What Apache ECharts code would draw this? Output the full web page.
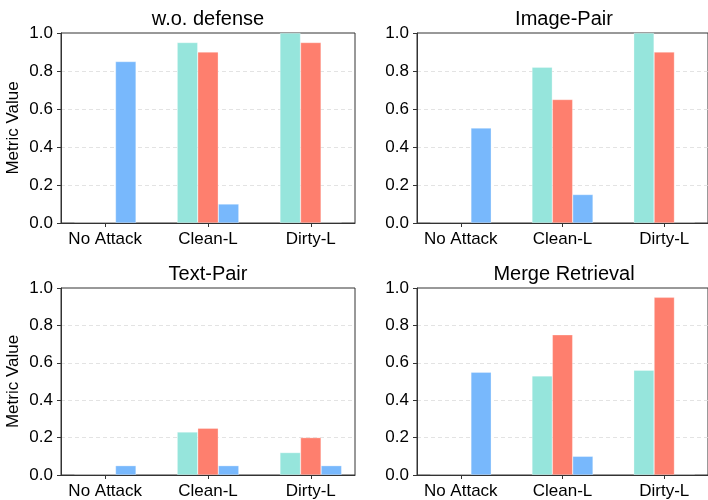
<!DOCTYPE html>
<html>
<head>
<meta charset="utf-8">
<script src="https://cdn.jsdelivr.net/npm/echarts@6/dist/echarts.min.js"></script>
<style>
  html, body { margin: 0; padding: 0; background: #fff; }
  #chart { width: 708px; height: 500px; }
</style>
</head>
<body>
<div id="chart"></div>
<script>
// Attack settings along the x axis
const categories = ['No Attack', 'Clean-L', 'Dirty-L'];
// Panel titles
const panelTitles = ['w.o. defense', 'Image-Pair', 'Text-Pair', 'Merge Retrieval'];
// Y tick labels
const yTicks = [0.0, 0.2, 0.4, 0.6, 0.8, 1.0];

// Metric values per panel: three series per attack setting
const tealValues = [
  [0, 0.95, 1.00],
  [0, 0.82, 1.00],
  [0, 0.23, 0.12],
  [0, 0.53, 0.56]
];
const salmonValues = [
  [0, 0.90, 0.95],
  [0, 0.65, 0.90],
  [0, 0.25, 0.20],
  [0, 0.75, 0.95]
];
const blueValues = [
  [0.85, 0.10, 0],
  [0.50, 0.15, 0],
  [0.05, 0.05, 0.05],
  [0.55, 0.10, 0]
];

const seriesColors = ['#96E5DC', '#FE7F6E', '#78B8FC'];
const seriesSets = [tealValues, salmonValues, blueValues];

const FONT = "'Liberation Sans', Arial, sans-serif";
const AXIS_COLOR = '#333333';

// Panel frames (2x2 layout)
const grids = [
  { left: 61, top: 33, right: 353, bottom: 277 },
  { left: 417, top: 33, right: -3, bottom: 277 },
  { left: 61, top: 288, right: 353, bottom: 22 },
  { left: 417, top: 288, right: -3, bottom: 22 }
].map(g => Object.assign({
  show: true,
  borderColor: AXIS_COLOR,
  borderWidth: 1,
  backgroundColor: 'transparent',
  containLabel: false
}, g));

const titleCenters = [
  { x: 208, y: 9 },
  { x: 564, y: 9 },
  { x: 208, y: 264 },
  { x: 564, y: 264 }
];

const xAxes = [];
const yAxes = [];
const series = [];
const titles = [];

for (let p = 0; p < 4; p++) {
  titles.push({
    text: panelTitles[p],
    left: titleCenters[p].x,
    top: titleCenters[p].y,
    textAlign: 'center',
    padding: 0,
    textStyle: { fontFamily: FONT, fontSize: 20, fontWeight: 'normal', color: '#000' }
  });

  // axis lines sit above the bars, like plot spines
  xAxes.push({
    type: 'value',
    gridIndex: p,
    z: 5,
    min: -0.43,
    max: 2.43,
    axisLine: { show: true, onZero: false, lineStyle: { color: AXIS_COLOR, width: 1 } },
    axisTick: {
      show: true, inside: false, length: 4,
      customValues: [0, 1, 2],
      lineStyle: { color: AXIS_COLOR, width: 1 }
    },
    axisLabel: {
      show: true,
      customValues: [0, 1, 2],
      margin: 8,
      fontFamily: FONT,
      fontSize: 17,
      color: '#000',
      formatter: v => categories[Math.round(v)]
    },
    splitLine: { show: false }
  });

  yAxes.push({
    type: 'value',
    gridIndex: p,
    min: yTicks[0],
    max: yTicks[yTicks.length - 1],
    interval: 0.2,
    name: (p % 2 === 0) ? 'Metric Value' : '',
    nameLocation: 'middle',
    nameGap: 39,
    nameTextStyle: { fontFamily: FONT, fontSize: 17, color: '#000' },
    axisLine: { show: true, onZero: false, lineStyle: { color: AXIS_COLOR, width: 1 } },
    axisTick: { show: true, inside: false, length: 4, lineStyle: { color: AXIS_COLOR, width: 1 } },
    axisLabel: {
      margin: 8,
      fontFamily: FONT,
      fontSize: 17,
      color: '#000',
      formatter: v => v.toFixed(1)
    },
    splitLine: {
      show: true,
      showMinLine: false,
      showMaxLine: false,
      lineStyle: { color: '#dcdcdc', type: [4, 3], width: 0.8 }
    }
  });

  for (let s = 0; s < 3; s++) {
    series.push({
      type: 'bar',
      xAxisIndex: p,
      yAxisIndex: p,
      barWidth: '20%',
      barGap: '0%',
      data: seriesSets[s][p].map((v, i) => [i, v]),
      itemStyle: {
        color: seriesColors[s],
        borderColor: 'rgba(255,255,255,0.6)',
        borderWidth: 0.5
      },
      emphasis: { disabled: true },
      animation: false
    });
  }
}

const chart = echarts.init(document.getElementById('chart'), null, { renderer: 'canvas' });
chart.setOption({
  backgroundColor: '#ffffff',
  animation: false,
  title: titles,
  grid: grids,
  xAxis: xAxes,
  yAxis: yAxes,
  series: series
});
</script>
</body>
</html>
